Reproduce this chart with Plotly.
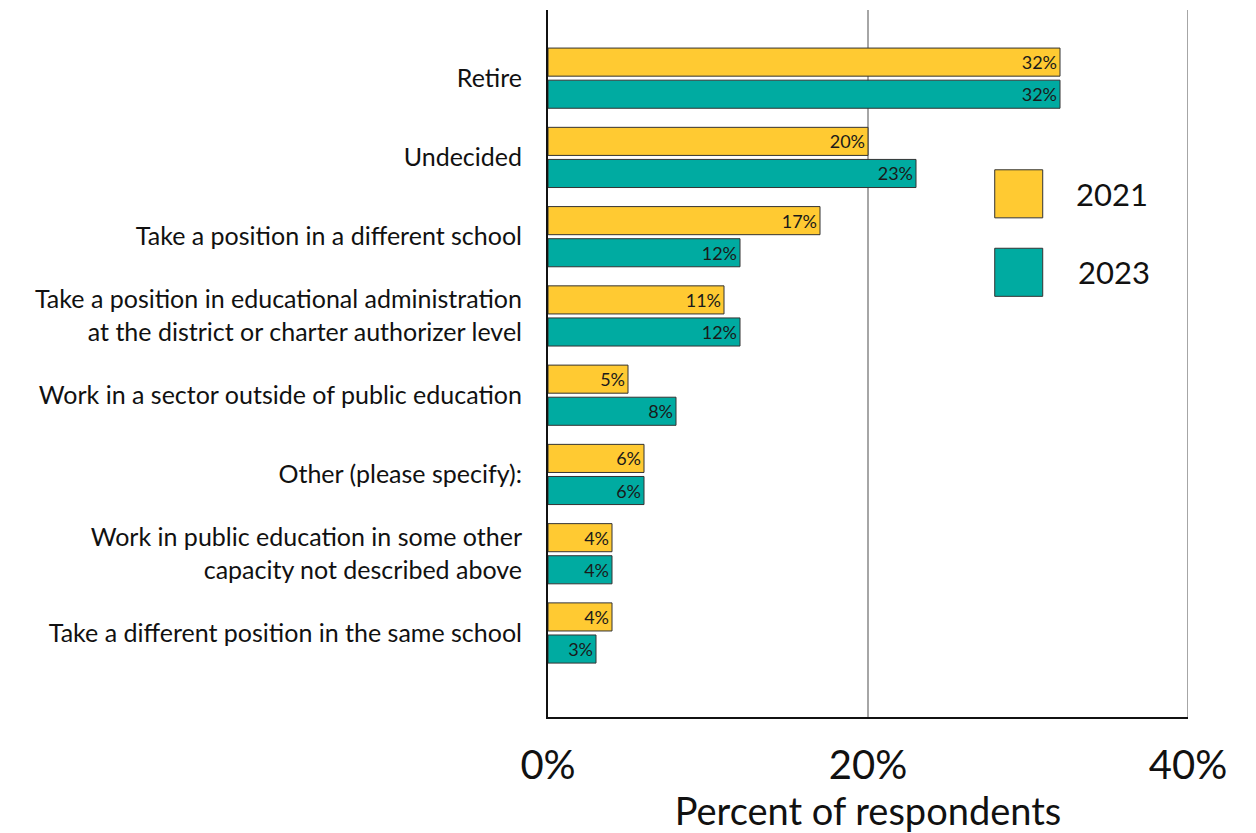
import plotly.graph_objects as go

categories = [
    "Retire",
    "Undecided",
    "Take a position in a different school",
    "Take a position in educational administration<br>at the district or charter authorizer level",
    "Work in a sector outside of public education",
    "Other (please specify):",
    "Work in public education in some other<br>capacity not described above",
    "Take a different position in the same school",
]
values_2021 = [32, 20, 17, 11, 5, 6, 4, 4]
values_2023 = [32, 23, 12, 12, 8, 6, 4, 3]
x_ticks = [0, 20, 40]
x_tick_labels = ["0%", "20%", "40%"]

YELLOW = "#FFCA32"
TEAL = "#00ABA1"
OUTLINE = "#333333"
GRID = "#A6A6A6"
FONT = "Lato"

fig = go.Figure()
for name, vals, color in [("2021", values_2021, YELLOW), ("2023", values_2023, TEAL)]:
    fig.add_trace(go.Bar(
        name=name,
        y=categories,
        x=vals,
        orientation="h",
        marker=dict(color=color, line=dict(color=OUTLINE, width=1)),
        text=[f"{v}%" for v in vals],
        textposition="inside",
        insidetextanchor="end",
        textangle=0,
        textfont=dict(family=FONT, size=18, color="#1a1a1a"),
        showlegend=False,
        cliponaxis=False,
    ))

# gridline at the right edge of the axis range
fig.add_shape(type="line", xref="x", yref="paper",
              x0=x_ticks[-1], x1=x_ticks[-1], y0=0, y1=1,
              line=dict(color=GRID, width=2), layer="below")

# legend drawn as swatches with labels
legend_items = [("2021", YELLOW, 0.774, 0.706, 0.822), ("2023", TEAL, 0.663, 0.595, 0.825)]
for label, color, y1, y0, tx in legend_items:
    fig.add_shape(type="rect", xref="paper", yref="paper",
                  x0=0.698, x1=0.773, y0=y0, y1=y1,
                  fillcolor=color, line=dict(color=OUTLINE, width=1))
    fig.add_annotation(xref="paper", yref="paper", x=tx, y=(y0 + y1) / 2,
                       text=label, showarrow=False, xanchor="left", yanchor="middle",
                       font=dict(family=FONT, size=31, color="#111111"))

fig.update_layout(
    width=1256, height=833,
    margin=dict(l=548, r=68, t=10, b=116),
    paper_bgcolor="white", plot_bgcolor="white",
    barmode="group", bargap=0.19, bargroupgap=0.125,
    font=dict(family=FONT, color="#111111"),
)
fig.update_xaxes(
    range=[0, 40], tickvals=x_ticks, ticktext=x_tick_labels,
    tickfont=dict(family=FONT, size=40, color="#111111"),
    showgrid=True, gridcolor=GRID, gridwidth=2,
    showline=True, linecolor="#111111", linewidth=2,
    zeroline=False, ticks="", ticklabelstandoff=12,
    title=dict(text="Percent of respondents", font=dict(family=FONT, size=38, color="#111111"), standoff=2),
    fixedrange=True,
)
fig.update_yaxes(
    type="category", categoryorder="array", categoryarray=categories,
    range=[8.06, -0.86],
    tickfont=dict(family=FONT, size=25, color="#111111"),
    showline=True, linecolor="#111111", linewidth=2,
    showgrid=False, ticks="", ticklabelstandoff=19,
    fixedrange=True,
)

fig.write_html("out.html")
